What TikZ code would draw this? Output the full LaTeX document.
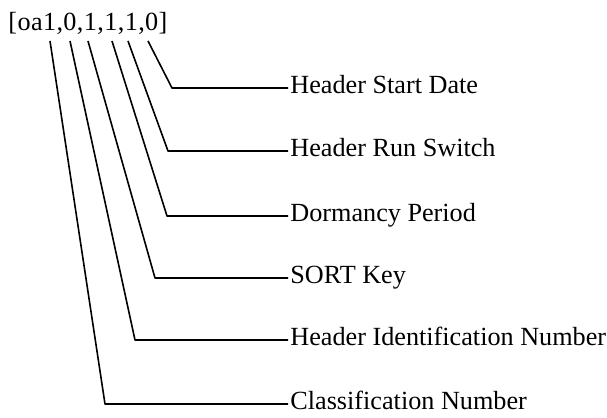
\documentclass[tikz,border=0pt]{standalone}
\usepackage{fontspec}
\setmainfont{Liberation Serif}
\usepackage{tikz}
\usetikzlibrary{positioning, calc}

\tikzset{
    lbl/.style={anchor=west, inner xsep=1pt, inner ysep=0pt, text height=7.5pt, text depth=2pt, font=\fontsize{13.1}{15}\selectfont},
    lead/.style={line width=0.8pt, line join=round},
}

\begin{document}
\begin{tikzpicture}[x=0.5pt, y=-0.5pt]
        \useasboundingbox (0,0) rectangle (607,418);

        % --- parameter string ---
        \node[anchor=base west, inner sep=0pt, font=\fontsize{13.1}{15}\selectfont\addfontfeature{LetterSpace=1.5}] (param) at (8,30) {[oa1,0,1,1,1,0]};

        % --- leaders from each field to its label ---
        \foreach \i/\sx/\cx/\y/\txt in {1/50/105/404/Classification Number,
                                        2/70/135/340/Header Identification Number,
                                        3/88/155/278/SORT Key,
                                        4/112/167/216/Dormancy Period,
                                        5/128/168/151/Header Run Switch,
                                        6/148/172/88/Header Start Date} {
            \coordinate (s\i) at (\sx,41);
            \coordinate (c\i) at (\cx,\y);
            \node[lbl] (l\i) at (288,\y) {\txt};
            \draw[lead] (s\i) -- (c\i) -- (l\i.west);
        }
    \end{tikzpicture}
\end{document}
